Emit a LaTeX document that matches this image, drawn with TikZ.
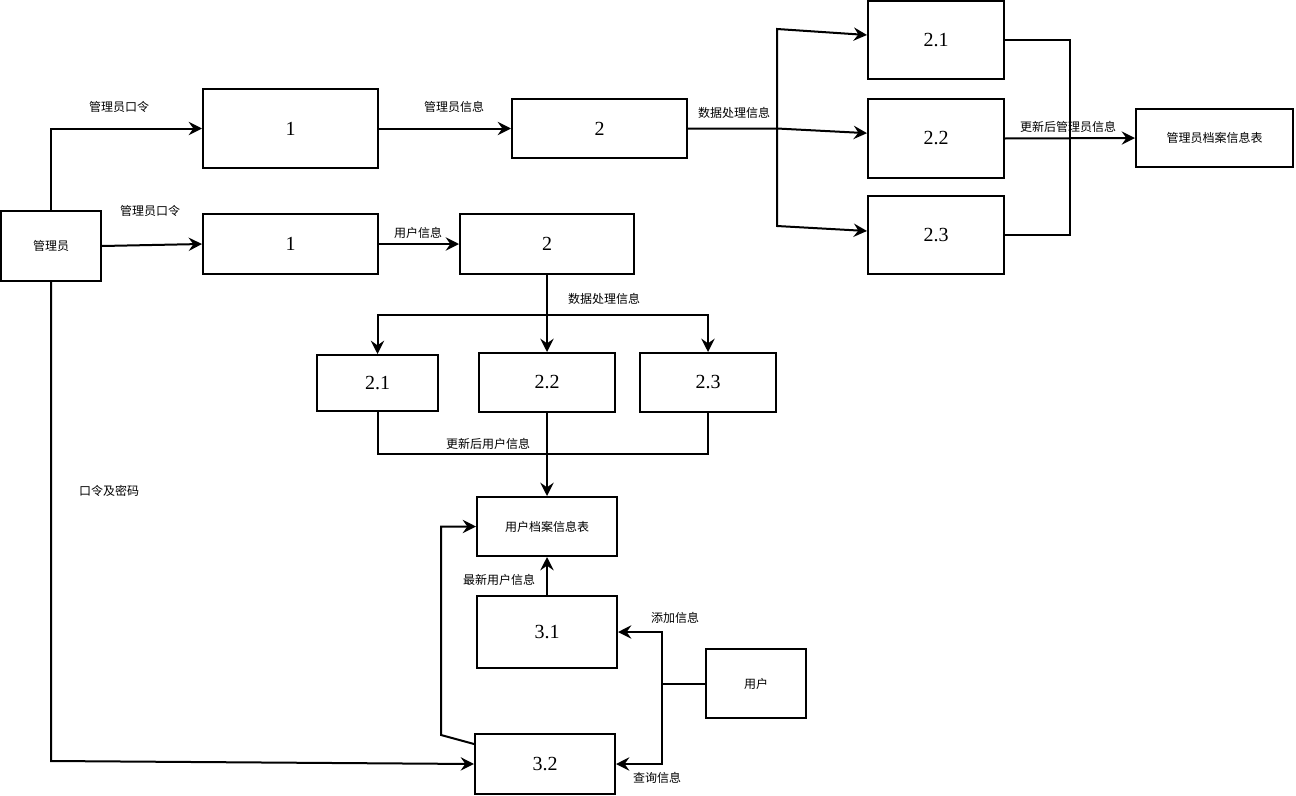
\documentclass[tikz,border=0pt]{standalone}
\usepackage{fontspec}
\setmainfont{Liberation Serif}
\newfontfamily\cjk{Noto Sans CJK SC}
\usetikzlibrary{arrows.meta}
\newcommand\mybox[6]{\node[box, minimum width={(#4-#2)*0.75pt}, minimum height={(#5-#3)*0.75pt}] (#1) at ({(#2+#4)/2},{(#3+#5)/2}) {#6};}
\begin{document}
\begin{tikzpicture}[x=0.75pt,y=-0.75pt,
  >={Stealth[length=10pt,width=10pt,inset=3.5pt]},
  box/.style={draw, line width=1.5pt, inner sep=0pt, font=\fontsize{15}{18}\selectfont},
  lbl/.style={font=\cjk\fontsize{9}{11}\selectfont, inner sep=0pt},
  ln/.style={line width=1.5pt},
  arr/.style={ln, ->}]
\useasboundingbox (0,0) rectangle (1296,796);
% boxes
\mybox{adm}{1}{211}{101}{281}{\cjk\fontsize{9}{11}\selectfont 管理员}
\mybox{a1}{203}{89}{378}{168}{1}
\mybox{a2}{512}{99}{687}{158}{2}
\mybox{a21}{868}{1}{1004}{79}{2.1}
\mybox{a22}{868}{99}{1004}{178}{2.2}
\mybox{a23}{868}{196}{1004}{274}{2.3}
\mybox{mtab}{1136}{109}{1293}{167}{\cjk\fontsize{9}{11}\selectfont 管理员档案信息表}
\mybox{u1}{203}{214}{378}{274}{1}
\mybox{u2}{460}{214}{634}{274}{2}
\mybox{u21}{317}{355}{438}{411}{2.1}
\mybox{u22}{479}{353}{615}{412}{2.2}
\mybox{u23}{640}{353}{776}{412}{2.3}
\mybox{utab}{477}{497}{617}{556}{\cjk\fontsize{9}{11}\selectfont 用户档案信息表}
\mybox{p31}{477}{596}{617}{668}{3.1}
\mybox{usr}{706}{649}{806}{718}{\cjk\fontsize{9}{11}\selectfont 用户}
\mybox{p32}{475}{734}{615}{794}{3.2}
% coordinates
\coordinate (split) at (777,128.5);
\coordinate (sup1) at (777,29);
\coordinate (sdn1) at (777,226);
\coordinate (mrg) at (1070,138);
\coordinate (fan) at (547,315);
\coordinate (join) at (547,454);
\coordinate (uj) at (662,683.5);
\coordinate (bend) at (441,735);
\coordinate (low) at (51,761);
% top row
\draw[arr] (adm.north) |- (a1.west);
\draw[arr] (a1.east) -- (a2.west);
\draw[arr] (a2.east) -- (split) -- ([yshift=4pt]a22.west);
\draw[arr] (split) -- (sup1) -- ([yshift=3.75pt]a21.west);
\draw[arr] (split) -- (sdn1) -- ([yshift=3pt]a23.west);
\draw[ln] (a21.east) -| (mrg) |- (a23.east);
\draw[arr] (a22.east) -- (mtab.west);
% middle row
\draw[arr] (adm.east) -- (u1.west);
\draw[arr] (u1.east) -- (u2.west);
\draw[arr] (u2.south) -- (u22.north);
\draw[arr] (fan) -| (u21.north);
\draw[arr] (fan) -| (u23.north);
\draw[ln] (u21.south) |- (join) -| (u23.south);
\draw[arr] (u22.south) -- (utab.north);
% bottom
\draw[arr] (p31.north) -- (utab.south);
\draw[ln] (usr.west) -- (uj);
\draw[arr] (uj) |- (p31.east);
\draw[arr] (uj) |- (p32.east);
\draw[arr] ([yshift=15pt]p32.west) -- (bend) |- (utab.west);
\draw[arr] (adm.south) -- (low) -- (p32.west);
% labels
\node[lbl] (l1) at (119,107) {管理员口令};
\node[lbl] (l2) at (454,107) {管理员信息};
\node[lbl] (l3) at (734,113) {数据处理信息};
\node[lbl] (l4) at (1068,127) {更新后管理员信息};
\node[lbl] (l5) at (150,211) {管理员口令};
\node[lbl] (l6) at (418,233) {用户信息};
\node[lbl] (l7) at (604,299) {数据处理信息};
\node[lbl] (l8) at (488,444) {更新后用户信息};
\node[lbl] (l9) at (109,491) {口令及密码};
\node[lbl] (l10) at (499,580) {最新用户信息};
\node[lbl] (l11) at (675,618) {添加信息};
\node[lbl] (l12) at (657,778) {查询信息};
\end{tikzpicture}
\end{document}
